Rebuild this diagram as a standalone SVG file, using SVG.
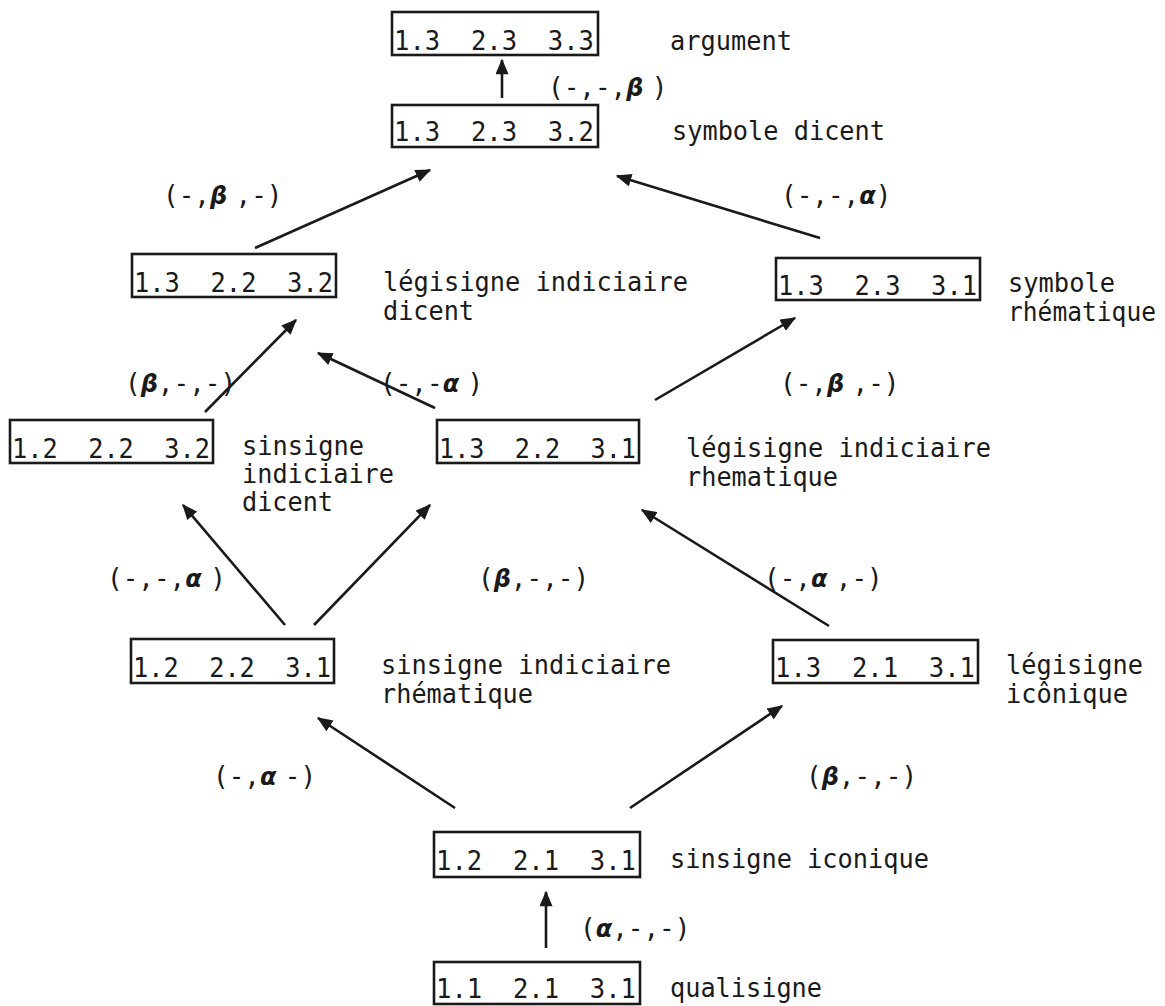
<svg xmlns="http://www.w3.org/2000/svg" width="1165" height="1006" viewBox="0 0 1165 1006">
<style>
.bg{fill:#fff}
.box{fill:none;stroke:#1a1a1a;stroke-width:2.6}
.t{font-family:"DejaVu Sans Mono","Liberation Mono",monospace;font-size:27px;fill:#1a1a1a;white-space:pre}
.n{font-family:"DejaVu Sans Mono","Liberation Mono",monospace;font-size:26px;fill:#1a1a1a;white-space:pre}
.lab{font-family:"DejaVu Sans Mono","Liberation Mono",monospace;font-size:26px;fill:#1a1a1a;white-space:pre}
.g{font-family:"DejaVu Sans","Liberation Sans",sans-serif;font-weight:bold;font-style:italic;font-size:24px}
.edge{stroke:#1a1a1a;stroke-width:2.6;fill:none;marker-end:url(#ah)}
</style>
<defs>
<marker id="ah" viewBox="0 0 12 10" refX="11" refY="5" markerWidth="16" markerHeight="13" markerUnits="userSpaceOnUse" orient="auto">
<path d="M0,0 L12,5 L0,10 z" fill="#1a1a1a"/>
</marker>
</defs>
<rect class="bg" x="0" y="0" width="1165" height="1006"/>

<g id="n-argument">
<rect class="box" x="392" y="12" width="206" height="43"/>
<text class="t" x="394" y="50" textLength="200" lengthAdjust="spacingAndGlyphs">1.3  2.3  3.3</text>
<text class="n" x="670" y="50" textLength="122" lengthAdjust="spacingAndGlyphs">argument</text>
</g>
<g id="n-symbole-dicent">
<rect class="box" x="392" y="105" width="206" height="42"/>
<text class="t" x="394" y="141" textLength="200" lengthAdjust="spacingAndGlyphs">1.3  2.3  3.2</text>
<text class="n" x="672" y="140" textLength="213" lengthAdjust="spacingAndGlyphs">symbole dicent</text>
</g>
<g id="n-legisigne-indiciaire-dicent">
<rect class="box" x="132" y="254" width="204" height="43"/>
<text class="t" x="134" y="292" textLength="199" lengthAdjust="spacingAndGlyphs">1.3  2.2  3.2</text>
<text class="n" x="383" y="291" textLength="305" lengthAdjust="spacingAndGlyphs">légisigne indiciaire</text>
<text class="n" x="383" y="320" textLength="91" lengthAdjust="spacingAndGlyphs">dicent</text>
</g>
<g id="n-symbole-rhematique">
<rect class="box" x="776" y="258" width="204" height="42"/>
<text class="t" x="778" y="295" textLength="199" lengthAdjust="spacingAndGlyphs">1.3  2.3  3.1</text>
<text class="n" x="1008" y="292" textLength="107" lengthAdjust="spacingAndGlyphs">symbole</text>
<text class="n" x="1008" y="321" textLength="148" lengthAdjust="spacingAndGlyphs">rhématique</text>
</g>
<g id="n-sinsigne-indiciaire-dicent">
<rect class="box" x="10" y="420" width="203" height="43"/>
<text class="t" x="12" y="458" textLength="198" lengthAdjust="spacingAndGlyphs">1.2  2.2  3.2</text>
<text class="n" x="242" y="455" textLength="122" lengthAdjust="spacingAndGlyphs">sinsigne</text>
<text class="n" x="242" y="483" textLength="152" lengthAdjust="spacingAndGlyphs">indiciaire</text>
<text class="n" x="242" y="511" textLength="91" lengthAdjust="spacingAndGlyphs">dicent</text>
</g>
<g id="n-legisigne-indiciaire-rhematique">
<rect class="box" x="437" y="420" width="202" height="43"/>
<text class="t" x="439" y="458" textLength="197" lengthAdjust="spacingAndGlyphs">1.3  2.2  3.1</text>
<text class="n" x="686" y="457" textLength="305" lengthAdjust="spacingAndGlyphs">légisigne indiciaire</text>
<text class="n" x="686" y="486" textLength="152" lengthAdjust="spacingAndGlyphs">rhematique</text>
</g>
<g id="n-sinsigne-indiciaire-rhematique">
<rect class="box" x="131" y="639" width="203" height="44"/>
<text class="t" x="133" y="677" textLength="198" lengthAdjust="spacingAndGlyphs">1.2  2.2  3.1</text>
<text class="n" x="381" y="674" textLength="290" lengthAdjust="spacingAndGlyphs">sinsigne indiciaire</text>
<text class="n" x="381" y="703" textLength="152" lengthAdjust="spacingAndGlyphs">rhématique</text>
</g>
<g id="n-legisigne-iconique">
<rect class="box" x="773" y="640" width="205" height="43"/>
<text class="t" x="775" y="677" textLength="200" lengthAdjust="spacingAndGlyphs">1.3  2.1  3.1</text>
<text class="n" x="1006" y="674" textLength="137" lengthAdjust="spacingAndGlyphs">légisigne</text>
<text class="n" x="1006" y="703" textLength="122" lengthAdjust="spacingAndGlyphs">icônique</text>
</g>
<g id="n-sinsigne-iconique">
<rect class="box" x="434" y="832" width="206" height="45"/>
<text class="t" x="436" y="870" textLength="200" lengthAdjust="spacingAndGlyphs">1.2  2.1  3.1</text>
<text class="n" x="670" y="868" textLength="259" lengthAdjust="spacingAndGlyphs">sinsigne iconique</text>
</g>
<g id="n-qualisigne">
<rect class="box" x="434" y="962" width="206" height="42"/>
<text class="t" x="436" y="998" textLength="200" lengthAdjust="spacingAndGlyphs">1.1  2.1  3.1</text>
<text class="n" x="670" y="997" textLength="152" lengthAdjust="spacingAndGlyphs">qualisigne</text>
</g>

<g id="connectors">
<line class="edge" x1="546" y1="948" x2="546" y2="892"/>
<line class="edge" x1="455" y1="808" x2="318" y2="718"/>
<line class="edge" x1="630" y1="808" x2="782" y2="706"/>
<line class="edge" x1="285" y1="625" x2="183" y2="505"/>
<line class="edge" x1="314" y1="625" x2="430" y2="505"/>
<line class="edge" x1="829" y1="626" x2="642" y2="510"/>
<line class="edge" x1="205" y1="412" x2="296" y2="320"/>
<line class="edge" x1="435" y1="408" x2="318" y2="353"/>
<line class="edge" x1="655" y1="400" x2="795" y2="318"/>
<line class="edge" x1="255" y1="248" x2="430" y2="170"/>
<line class="edge" x1="820" y1="238" x2="617" y2="176"/>
<line class="edge" x1="502" y1="98" x2="502" y2="60"/>
</g>

<g id="edge-labels">
<text class="lab" x="548" y="96">(-,-,<tspan class="g">β </tspan>)</text>
<text class="lab" x="163" y="204">(-,<tspan class="g">β </tspan>,-)</text>
<text class="lab" x="781" y="204">(-,-,<tspan class="g">α</tspan>)</text>
<text class="lab" x="125" y="392">(<tspan class="g">β</tspan>,-,-)</text>
<text class="lab" x="380" y="392">(-,-<tspan class="g">α </tspan>)</text>
<text class="lab" x="780" y="392">(-,<tspan class="g">β </tspan>,-)</text>
<text class="lab" x="107" y="587">(-,-,<tspan class="g">α </tspan>)</text>
<text class="lab" x="478" y="587">(<tspan class="g">β</tspan>,-,-)</text>
<text class="lab" x="764" y="587">(-,<tspan class="g">α </tspan>,-)</text>
<text class="lab" x="213" y="785">(-,<tspan class="g">α </tspan>-)</text>
<text class="lab" x="806" y="785">(<tspan class="g">β</tspan>,-,-)</text>
<text class="lab" x="580" y="937">(<tspan class="g">α</tspan>,-,-)</text>
</g>
</svg>
